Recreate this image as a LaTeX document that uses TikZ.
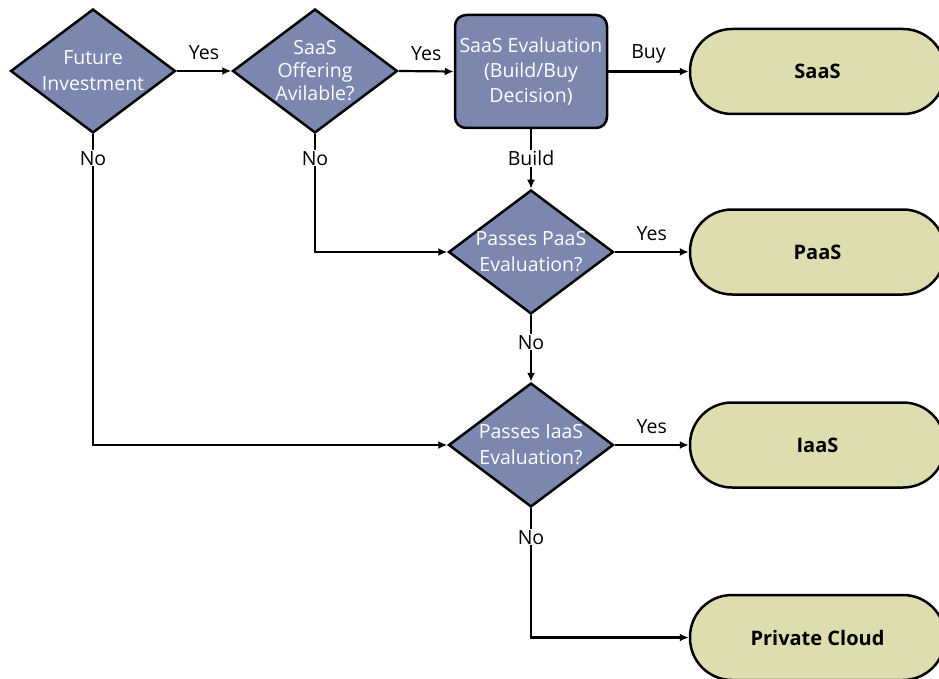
\documentclass[tikz,border=0pt]{standalone}
\usepackage{fontspec}
\setmainfont{Open Sans}
\usetikzlibrary{shapes.geometric,arrows.meta}
\definecolor{dblue}{RGB}{123,135,175}
\definecolor{khaki}{RGB}{221,221,176}
\begin{document}
\begin{tikzpicture}[x=1pt,y=-1pt,
  dia/.style={diamond, draw, line width=2.5pt, fill=dblue, minimum width=165pt, minimum height=124pt, inner sep=0pt},
  wtxt/.style={text=white, align=center, font=\fontsize{19.5}{26}\selectfont, inner sep=0pt},
  evalbox/.style={rectangle, rounded corners=11pt, draw, line width=2.5pt, fill=dblue, minimum width=152pt, minimum height=113pt, text=white, align=center, font=\fontsize{19.5}{25}\selectfont, inner sep=0pt},
  term/.style={rectangle, rounded corners=42pt, draw, line width=2.5pt, fill=khaki, minimum width=255pt, minimum height=85pt, font=\bfseries\fontsize{20}{24}\selectfont},
  arr/.style={line width=2.2pt, -{Latex[length=9pt,width=8pt]}},
  lbl/.style={font=\fontsize{19.5}{24}\selectfont, fill=white, inner sep=1pt},
  ylbl/.style={font=\fontsize{19.5}{24}\selectfont, inner sep=1pt, yshift=18pt},
]
\useasboundingbox (0,0) rectangle (939,679);
\clip (0,0) rectangle (939,679);

% decision nodes
\node[dia] (fi) at (93,71) {};
\node[wtxt] (fit) at (fi) {Future\\Investment};
\node[dia] (so) at (315,71) {};
\node[wtxt, font=\fontsize{19.5}{23}\selectfont] (sot) at (so) {SaaS\\Offering\\Avilable?};
\node[evalbox] (ev) at (531,71.5) {SaaS Evaluation\\(Build/Buy\\Decision)};
\node[dia] (pd) at (531,252) {};
\node[wtxt] (pdt) at (pd) {Passes PaaS\\Evaluation?};
\node[dia] (id) at (531,445) {};
\node[wtxt] (idt) at (id) {Passes IaaS\\Evaluation?};

% terminals
\node[term] (saas) at (817.5,71.5) {SaaS};
\node[term] (paas) at (817.5,252) {PaaS};
\node[term] (iaas) at (817.5,445) {IaaS};
\node[term] (pc) at (817.5,637.5) {Private Cloud};

% connectors
\draw[arr] (fi.east) -- node[ylbl] (l1) {Yes} (so.west);
\draw[arr] (so.east) -- node[ylbl] (l2) {Yes} (ev.west);
\draw[arr] (ev.east) -- node[ylbl] (l3) {Buy} (saas.west);
\draw[arr] (ev.south) -- ++(0,29) node[lbl] (l4) {Build} -- (pd.north);
\draw[arr] (so.south) -- ++(0,24) node[lbl] (l5) {No} |- (pd.west);
\draw[arr] (fi.south) -- ++(0,24) node[lbl] (l6) {No} |- (id.west);
\draw[arr] (pd.east) -- node[ylbl] (l7) {Yes} (paas.west);
\draw[arr] (pd.south) -- ++(0,27) node[lbl] (l8) {No} -- (id.north);
\draw[arr] (id.east) -- node[ylbl] (l9) {Yes} (iaas.west);
\draw[arr] (id.south) -- ++(0,29) node[lbl] (l10) {No} |- (pc.west);
\end{tikzpicture}
\end{document}
